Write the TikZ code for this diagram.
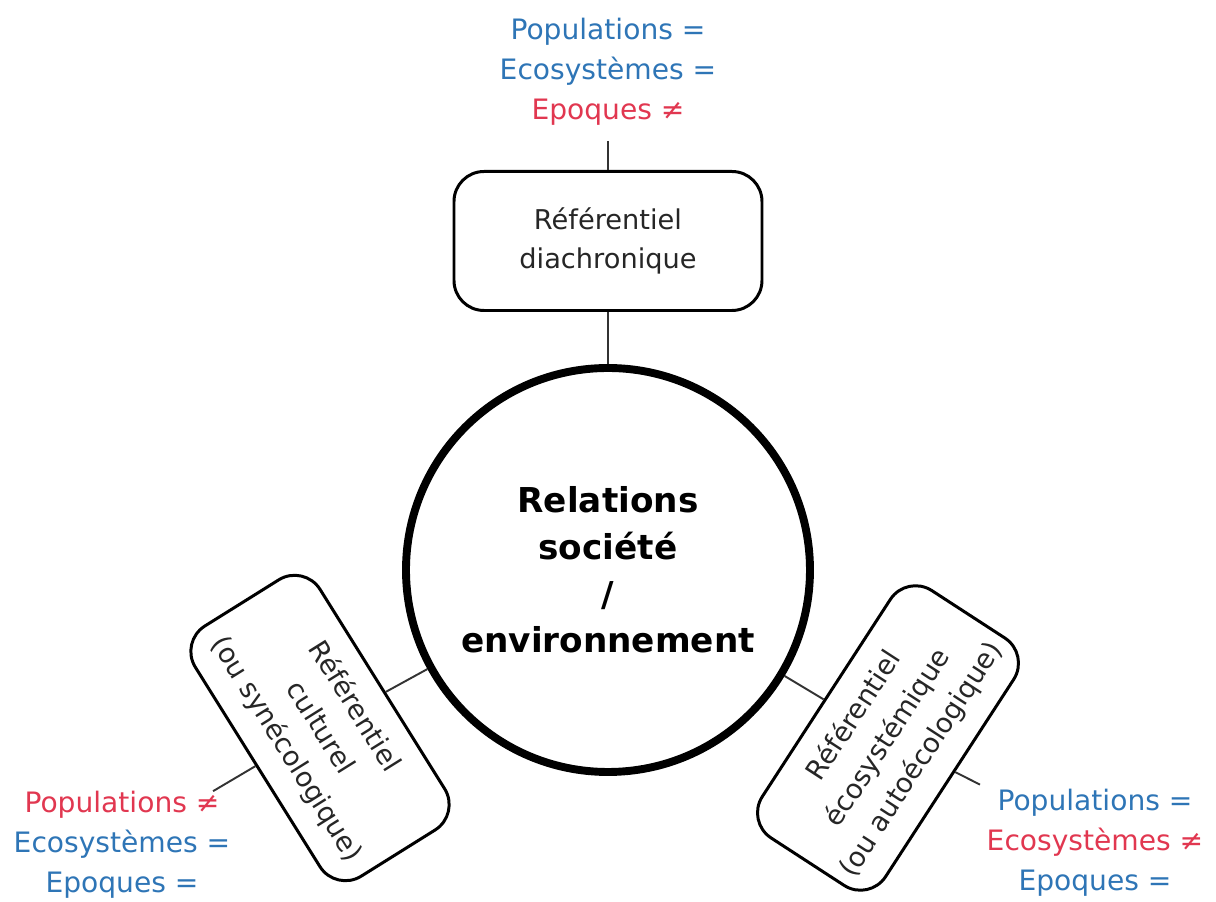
\documentclass[tikz,border=0pt]{standalone}
\usepackage{fontspec}
\setmainfont{DejaVu Sans}
\usepackage{tikz}
\usetikzlibrary{positioning,calc}
\definecolor{egal}{RGB}{46,117,182}
\definecolor{diff}{RGB}{225,55,80}

\begin{document}
\begin{tikzpicture}[
  ref/.style={draw, line width=1.7pt, rounded corners=0.6cm, align=center,
              text=black!85, inner xsep=2pt,
              font=\fontsize{15.5}{22.7}\selectfont},
  lab/.style={align=center, inner sep=0pt,
              font=\fontsize{16}{22.7}\selectfont},
  link/.style={line width=1.1pt, black!80}]
  \useasboundingbox (-12.16,-6.64) rectangle (12.16,11.4);
  % cercle central
  \node[circle, draw, line width=4.5pt, minimum size=8.08cm, align=center,
        font=\bfseries\fontsize{19.5}{26.6}\selectfont] (rel) at (0,0)
      {Relations\\société\\/\\environnement};
  % les trois référentiels
  \node[ref, minimum width=6.16cm, minimum height=2.78cm] (diachro) at (0,6.58)
      {Référentiel\\diachronique};
  \node[ref, minimum width=5.9cm, minimum height=2.94cm, rotate=-58] (cult) at (-5.76,-3.16)
      {Référentiel\\culturel\\(ou synécologique)};
  \node[ref, minimum width=5.9cm, minimum height=2.94cm, rotate=57] (eco) at (5.6,-3.36)
      {Référentiel\\écosystémique\\(ou autoécologique)};
  % étiquettes
  \node[lab] (labdia) at (0,9.96)
      {\textcolor{egal}{Populations =}\\\textcolor{egal}{Ecosystèmes =}\\\textcolor{diff}{Epoques ≠}};
  \node[lab] (labcult) at (-9.72,-5.5)
      {\textcolor{diff}{Populations ≠}\\\textcolor{egal}{Ecosystèmes =}\\\textcolor{egal}{Epoques =}};
  \node[lab] (labeco) at (9.74,-5.46)
      {\textcolor{egal}{Populations =}\\\textcolor{diff}{Ecosystèmes ≠}\\\textcolor{egal}{Epoques =}};
  % liens
  \draw[link] (rel) -- (diachro);
  \draw[link, shorten <=0.3cm] (labdia) -- (diachro);
  \draw[link] (rel) -- (cult);
  \draw[link] (cult) -- (labcult);
  \draw[link] (rel) -- (eco);
  \draw[link, shorten >=0.2cm] (eco) -- (labeco);
\end{tikzpicture}
\end{document}
